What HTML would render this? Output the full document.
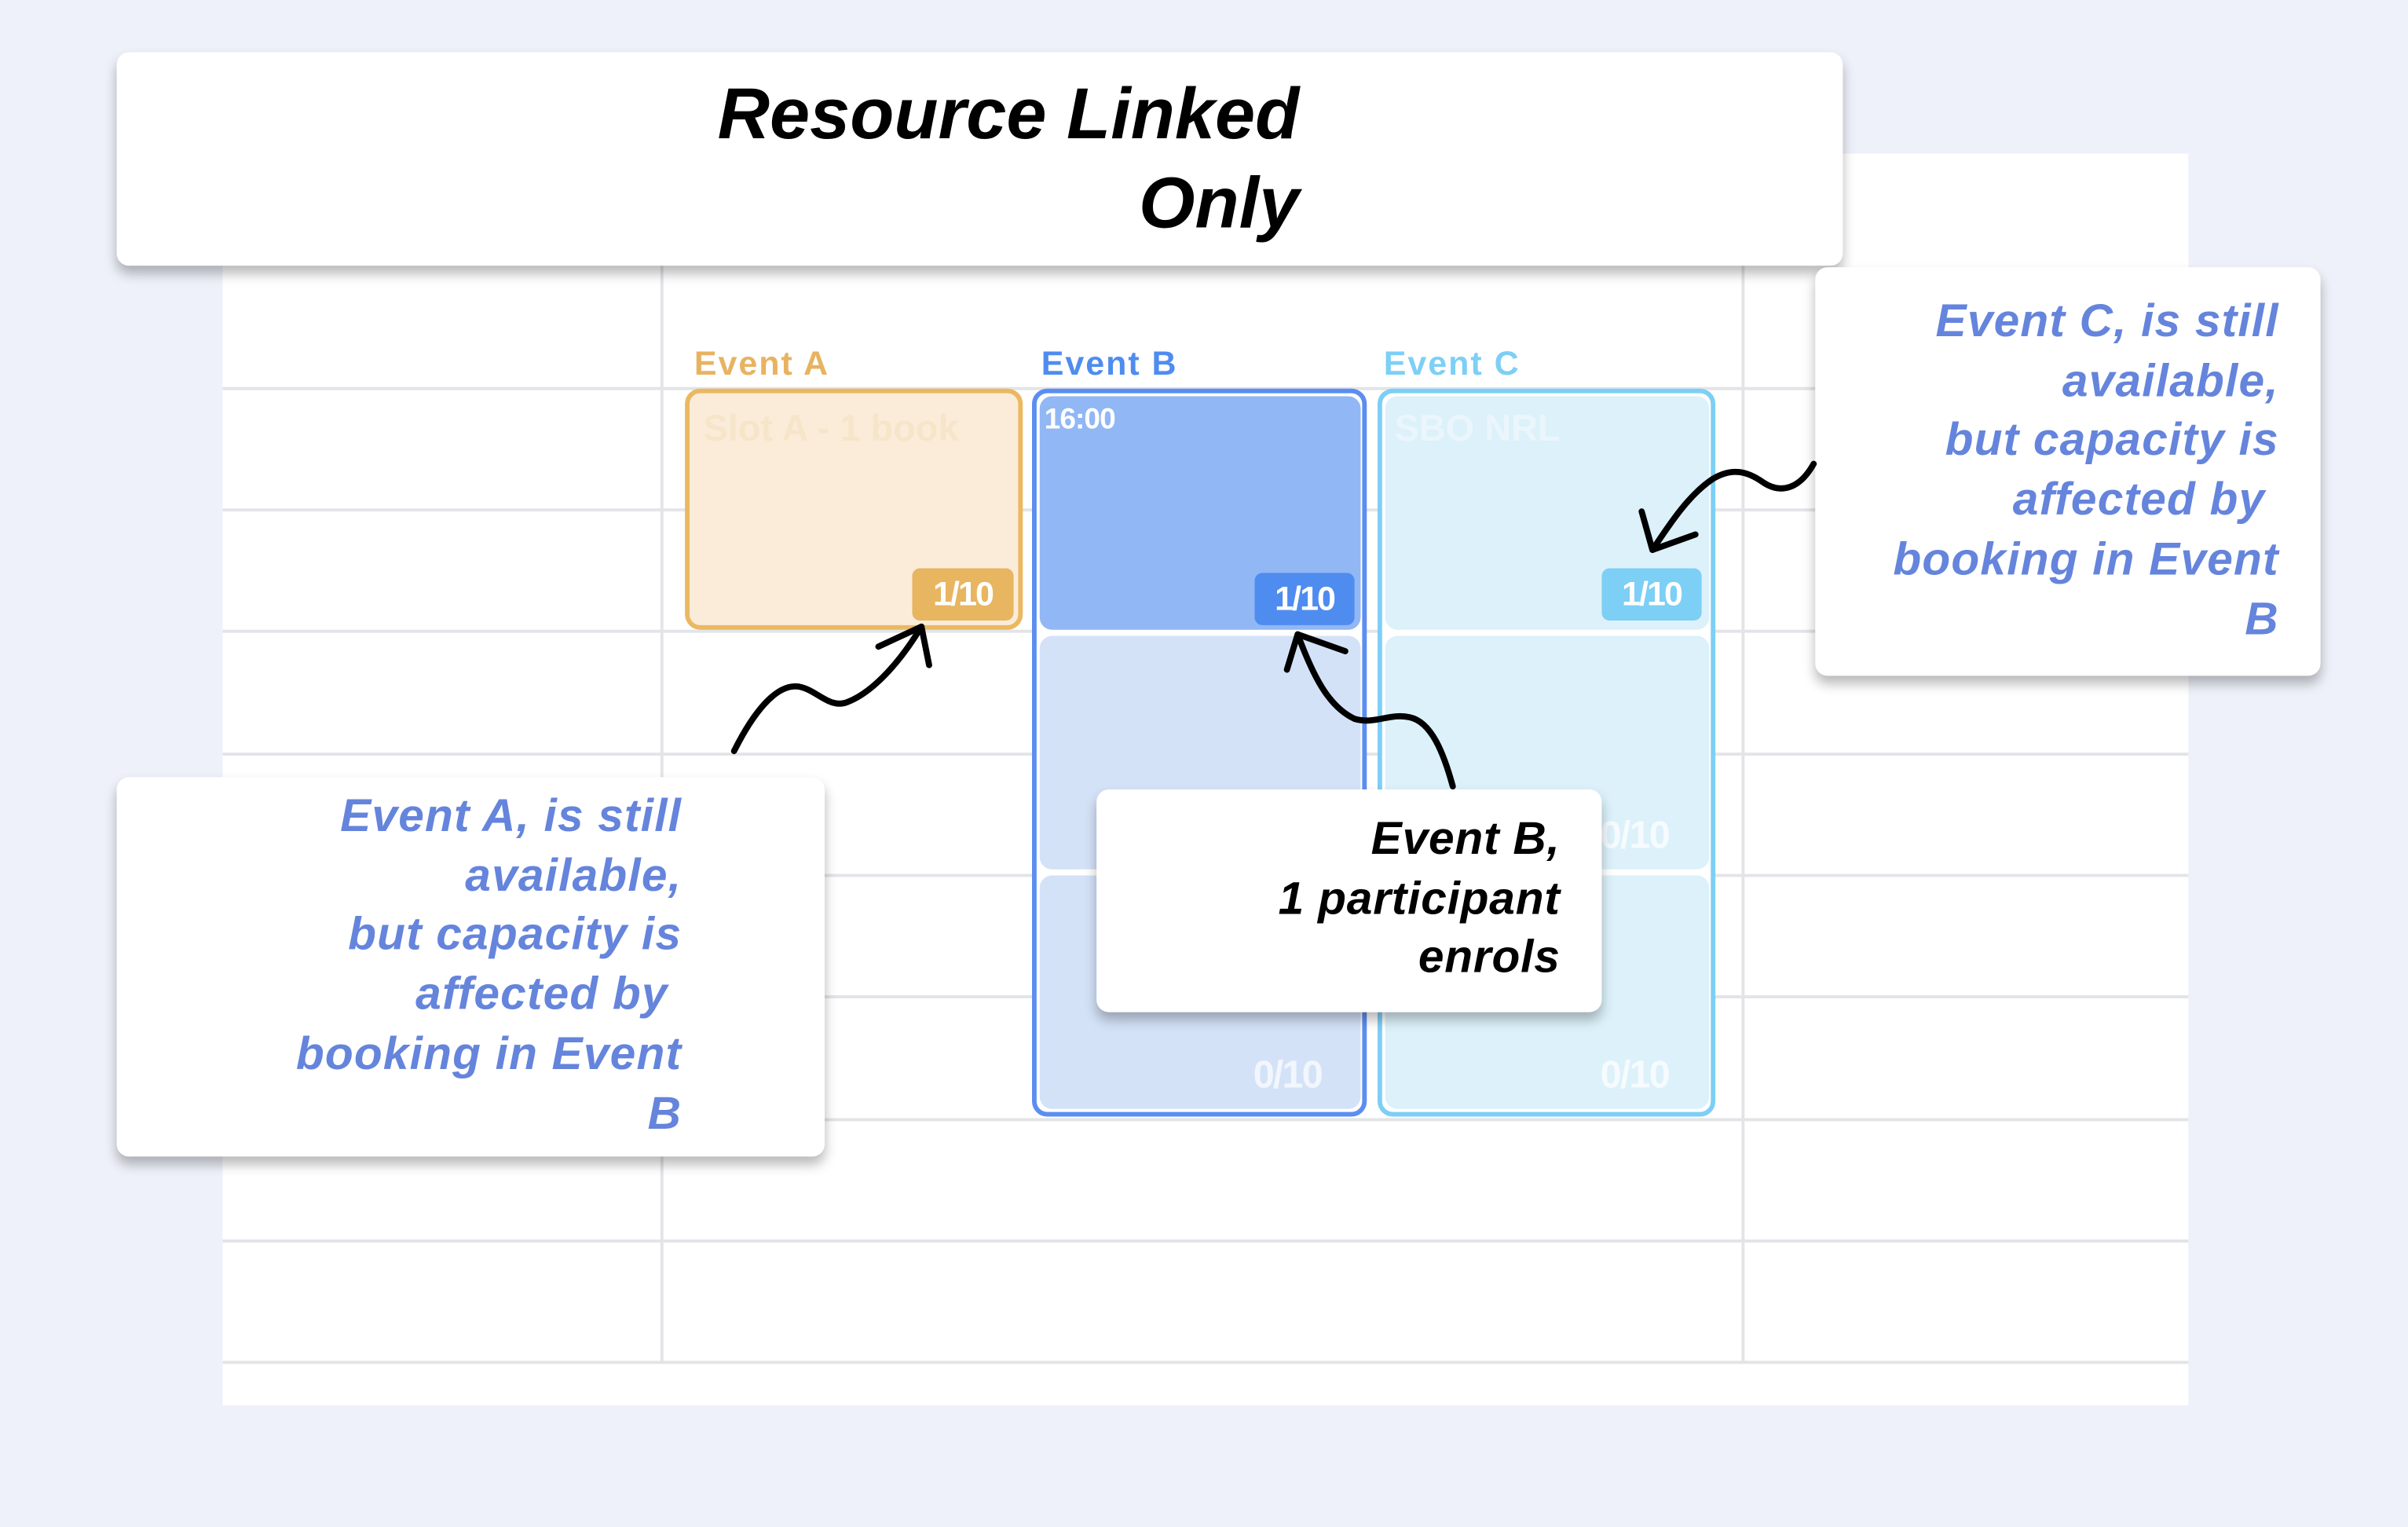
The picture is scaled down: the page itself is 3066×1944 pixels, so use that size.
<!DOCTYPE html>
<html><head><meta charset="utf-8"><style>
html,body{margin:0;padding:0;width:3066px;height:1944px;overflow:hidden;background:#eef1f9;}
#w{position:absolute;left:0;top:0;width:1568px;height:994px;transform:scale(1.95536);transform-origin:0 0;font-family:"Liberation Sans",sans-serif;}
.a{position:absolute;box-sizing:border-box;}
.hl{position:absolute;left:145px;width:1280px;height:2px;background:#e3e4e8;}
.vl{position:absolute;top:173px;height:714px;width:2px;background:#e3e4e8;}
.card{position:absolute;background:#fff;border-radius:8px;box-shadow:0 5px 8px rgba(0,0,0,0.28);}
.ct{position:absolute;text-align:right;font-weight:bold;font-style:italic;white-space:pre;}
.badge{position:absolute;color:#fff;font-weight:bold;font-size:22px;text-align:center;border-radius:5px;letter-spacing:-1px;}
.lbl{position:absolute;font-weight:bold;font-size:22px;letter-spacing:1px;}
.zero{position:absolute;color:rgba(255,255,255,0.7);font-weight:bold;font-size:25px;letter-spacing:-1px;}
</style></head><body><div id="w">
<div class="a" style="left:145px;top:100px;width:1280px;height:815px;background:#fff"></div>
<div class="hl" style="top:252px"></div><div class="hl" style="top:331px"></div><div class="hl" style="top:410px"></div><div class="hl" style="top:490px"></div><div class="hl" style="top:569px"></div><div class="hl" style="top:648px"></div><div class="hl" style="top:728px"></div><div class="hl" style="top:807px"></div><div class="hl" style="top:886px"></div>
<div class="vl" style="left:430px"></div><div class="vl" style="left:1134px"></div>

<div class="lbl" style="left:452px;top:224px;color:#e8b360">Event A</div>
<div class="lbl" style="left:678px;top:224px;color:#4f8cef">Event B</div>
<div class="lbl" style="left:901px;top:224px;color:#7dcff5">Event C</div>

<div class="a" style="left:446px;top:253px;width:220px;height:157px;border:3px solid #ebb862;border-radius:10px;background:#faecd9"></div>
<div class="a" style="left:458px;top:266px;color:rgba(232,179,96,0.12);font-size:24px;font-weight:bold">Slot A - 1 book</div>
<div class="badge" style="left:594px;top:370px;width:66px;height:34px;line-height:34px;background:#e8b560">1/10</div>

<div class="a" style="left:672px;top:253px;width:218px;height:474px;border:3px solid #5b8ef0;border-radius:10px;background:#fff"></div>
<div class="a" style="left:677px;top:258px;width:209px;height:152px;background:#91b7f4;border-radius:8px"></div>
<div class="a" style="left:677px;top:414px;width:209px;height:152px;background:#d4e2f8;border-radius:8px"></div>
<div class="a" style="left:677px;top:570px;width:209px;height:152px;background:#d4e2f8;border-radius:8px"></div>
<div class="a" style="left:680px;top:263px;color:#fff;font-size:19px;font-weight:bold;letter-spacing:-0.5px">16:00</div>
<div class="badge" style="left:817px;top:373px;width:65px;height:34px;line-height:34px;background:#4f8cef">1/10</div>
<div class="zero" style="left:816px;top:686px">0/10</div>

<div class="a" style="left:897px;top:253px;width:220px;height:474px;border:3px solid #7dcff5;border-radius:10px;background:#fff"></div>
<div class="a" style="left:902px;top:258px;width:211px;height:152px;background:#dcf1fa;border-radius:8px"></div>
<div class="a" style="left:902px;top:414px;width:211px;height:152px;background:#dcf1fa;border-radius:8px"></div>
<div class="a" style="left:902px;top:570px;width:211px;height:152px;background:#dcf1fa;border-radius:8px"></div>
<div class="a" style="left:908px;top:266px;color:rgba(255,255,255,0.4);font-size:24px;font-weight:bold">SBO NRL</div>
<div class="badge" style="left:1043px;top:370px;width:65px;height:34px;line-height:34px;background:#7dcff5">1/10</div>
<div class="zero" style="left:1042px;top:530px">0/10</div>
<div class="zero" style="left:1042px;top:686px">0/10</div>

<div class="card" style="left:76px;top:34px;width:1124px;height:139px"></div>
<div class="ct" style="right:722px;top:45px;font-size:47px;line-height:58px;color:#000;letter-spacing:0px">Resource Linked
Only</div>

<div class="card" style="left:76px;top:506px;width:461px;height:247px"></div>
<div class="ct" style="right:1124px;top:513px;font-size:30px;line-height:38.7px;color:#6584dc;letter-spacing:0.6px">Event A, is still
available,
but capacity is
affected by 
booking in Event
B</div>

<div class="card" style="left:1182px;top:174px;width:329px;height:266px"></div>
<div class="ct" style="right:84px;top:191px;font-size:30px;line-height:38.7px;color:#6584dc;letter-spacing:0.6px">Event C, is still
available,
but capacity is
affected by 
booking in Event
B</div>

<div class="card" style="left:714px;top:514px;width:329px;height:145px"></div>
<div class="ct" style="right:552px;top:528px;font-size:30px;line-height:38.7px;color:#000;letter-spacing:0.4px">Event B,
1 participant
enrols</div>

<svg class="a" style="left:0;top:0" width="1568" height="994" viewBox="0 0 1568 994" fill="none" stroke="#000" stroke-width="4" stroke-linecap="round" stroke-linejoin="round">
<path d="M478,489 C490,465 505,445 520,447 C532,449 540,462 552,457 C570,450 588,428 600,408"/>
<path d="M572,421 L600,408 L605,433"/>
<path d="M946,512 C940,490 932,470 918,467 C905,464 895,472 882,468 C865,460 855,440 845,413"/>
<path d="M838,436 L845,413 L876,424"/>
<path d="M1181,302 C1172,318 1160,322 1148,314 C1138,307 1128,304 1115,312 C1100,322 1088,340 1076,358"/>
<path d="M1069,333 L1076,358 L1104,348"/>
</svg>
</div></body></html>
